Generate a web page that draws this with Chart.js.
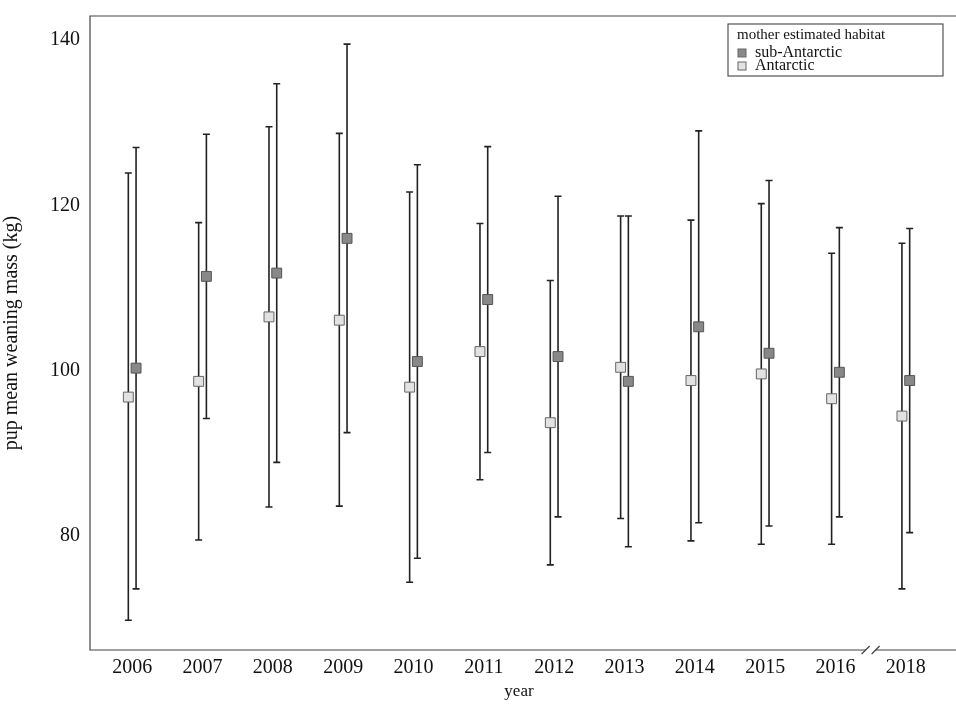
<!DOCTYPE html>
<html>
<head>
<meta charset="utf-8">
<script src="https://cdn.jsdelivr.net/npm/chart.js@4/dist/chart.umd.min.js"></script>
<style>
  html, body { margin: 0; padding: 0; background: #fff; }
  #wrap { width: 956px; height: 704px; }
</style>
</head>
<body>
<div id="wrap"><canvas id="chart"></canvas></div>
<script>
const years = ['2006', '2007', '2008', '2009', '2010', '2011', '2012', '2013', '2014', '2015', '2016', '2018']
const yTicks = [80, 100, 120, 140]

const antMean = [96.8, 98.7, 106.5, 106.1, 98.0, 102.3, 93.7, 100.4, 98.8, 99.6, 96.6, 94.5]
const antLow = [69.8, 79.5, 83.5, 83.6, 74.4, 86.8, 76.5, 82.1, 79.4, 79.0, 79.0, 73.6]
const antHigh = [123.9, 117.9, 129.5, 128.7, 121.6, 117.8, 110.9, 118.7, 118.2, 120.2, 114.2, 115.4]

const subMean = [100.3, 111.4, 111.8, 116.0, 101.1, 108.6, 101.7, 98.7, 105.3, 102.1, 99.8, 98.8]
const subLow = [73.6, 94.2, 88.9, 92.5, 77.3, 90.1, 82.3, 78.7, 81.6, 81.2, 82.3, 80.4]
const subHigh = [127.0, 128.6, 134.7, 139.5, 124.9, 127.1, 121.1, 118.7, 129.0, 123.0, 117.3, 117.2]

const OFFSET = 0.055
const FONT = '"Liberation Serif", "DejaVu Serif", serif'

function points(mean, low, high, off) {
    return mean.map((v, i) => ({ x: i + off, y: v, lo: low[i], hi: high[i] }))
}

const errorBars = {
    id: 'errorBars',
    beforeDatasetsDraw(chart) {
        const ctx = chart.ctx
        const ys = chart.scales.y
        const xs = chart.scales.x
        ctx.save()
        ctx.strokeStyle = '#222'
        ctx.lineWidth = 1.6
        chart.data.datasets.forEach((ds) => {
            ds.data.forEach((p) => {
                const x = xs.getPixelForValue(p.x)
                const y1 = ys.getPixelForValue(p.lo)
                const y2 = ys.getPixelForValue(p.hi)
                ctx.beginPath()
                ctx.moveTo(x, y1)
                ctx.lineTo(x, y2)
                ctx.moveTo(x - 3.5, y1)
                ctx.lineTo(x + 3.5, y1)
                ctx.moveTo(x - 3.5, y2)
                ctx.lineTo(x + 3.5, y2)
                ctx.stroke()
            })
        })
        ctx.restore()
    },
    afterDraw(chart) {
        const ctx = chart.ctx
        const a = chart.chartArea
        ctx.save()
        // frame (right side runs off the page)
        ctx.strokeStyle = '#444'
        ctx.lineWidth = 1.2
        ctx.beginPath()
        ctx.moveTo(956, a.top)
        ctx.lineTo(a.left, a.top)
        ctx.lineTo(a.left, a.bottom)
        ctx.lineTo(956, a.bottom)
        ctx.stroke()
        // axis break between 2016 and 2018
        const bx = chart.scales.x.getPixelForValue(10.5)
        ctx.fillStyle = '#fff'
        ctx.fillRect(bx - 5, a.bottom - 3, 10, 6)
        ctx.strokeStyle = '#444'
        ctx.beginPath()
        ctx.moveTo(bx - 9, a.bottom + 4)
        ctx.lineTo(bx - 1, a.bottom - 4)
        ctx.moveTo(bx + 1, a.bottom + 4)
        ctx.lineTo(bx + 9, a.bottom - 4)
        ctx.stroke()
        // legend
        const lx = 728, ly = 24, lw = 215, lh = 52
        ctx.fillStyle = '#fff'
        ctx.fillRect(lx, ly, lw, lh)
        ctx.strokeStyle = '#333'
        ctx.lineWidth = 1
        ctx.strokeRect(lx, ly, lw, lh)
        ctx.fillStyle = '#111'
        ctx.font = '15px ' + FONT
        ctx.textBaseline = 'middle'
        ctx.fillText('mother estimated habitat', lx + 9, ly + 11)
        const items = [['sub-Antarctic', '#888'], ['Antarctic', '#e2e2e2']]
        ctx.font = '16px ' + FONT
        items.forEach(([label, col], i) => {
            const cy = ly + 29 + i * 13
            ctx.fillStyle = col
            ctx.fillRect(lx + 10, cy - 4, 8, 8)
            ctx.strokeStyle = '#666'
            ctx.strokeRect(lx + 10, cy - 4, 8, 8)
            ctx.fillStyle = '#111'
            ctx.fillText(label, lx + 27, cy)
        })
        ctx.restore()
    }
}

new Chart(document.getElementById('chart'), {
    type: 'scatter',
    data: {
        datasets: [
            {
                label: 'sub-Antarctic',
                data: points(subMean, subLow, subHigh, OFFSET),
                pointStyle: 'rect',
                pointRadius: 7,
                backgroundColor: '#888',
                borderColor: '#555',
                borderWidth: 1,
            },
            {
                label: 'Antarctic',
                data: points(antMean, antLow, antHigh, -OFFSET),
                pointStyle: 'rect',
                pointRadius: 7,
                backgroundColor: '#e2e2e2',
                borderColor: '#666',
                borderWidth: 1,
            },
        ],
    },
    options: {
        responsive: true,
        maintainAspectRatio: false,
        animation: false,
        layout: { padding: { top: -6, right: -6, left: 0, bottom: 0 } },
        plugins: { legend: { display: false }, tooltip: { enabled: false } },
        scales: {
            x: {
                type: 'linear',
                min: -0.6,
                max: 11.6,
                afterBuildTicks(scale) {
                    scale.ticks = years.map((_, i) => ({ value: i }))
                },
                afterFit(scale) { scale.height = 54 },
                grid: { display: false, drawTicks: true, tickLength: 6, tickColor: '#444' },
                border: { display: false },
                ticks: {
                    color: '#111',
                    font: { family: FONT, size: 20 },
                    padding: 0,
                    callback: (v) => years[v],
                },
                title: { display: true, text: 'year', color: '#111', font: { family: FONT, size: 17 }, padding: { top: -2, bottom: 2 } },
            },
            y: {
                min: 66.2,
                max: 142.9,
                afterBuildTicks(scale) {
                    scale.ticks = yTicks.map((v) => ({ value: v }))
                },
                afterFit(scale) { scale.width = 90 },
                grid: { display: false, drawTicks: true, tickLength: 6, tickColor: '#444' },
                border: { display: false },
                ticks: { color: '#111', font: { family: FONT, size: 20 }, padding: 4 },
                title: { display: true, text: 'pup mean weaning mass (kg)', color: '#111', font: { family: FONT, size: 20 }, padding: { top: 0, bottom: 4 } },
            },
        },
    },
    plugins: [errorBars],
})
</script>
</body>
</html>
